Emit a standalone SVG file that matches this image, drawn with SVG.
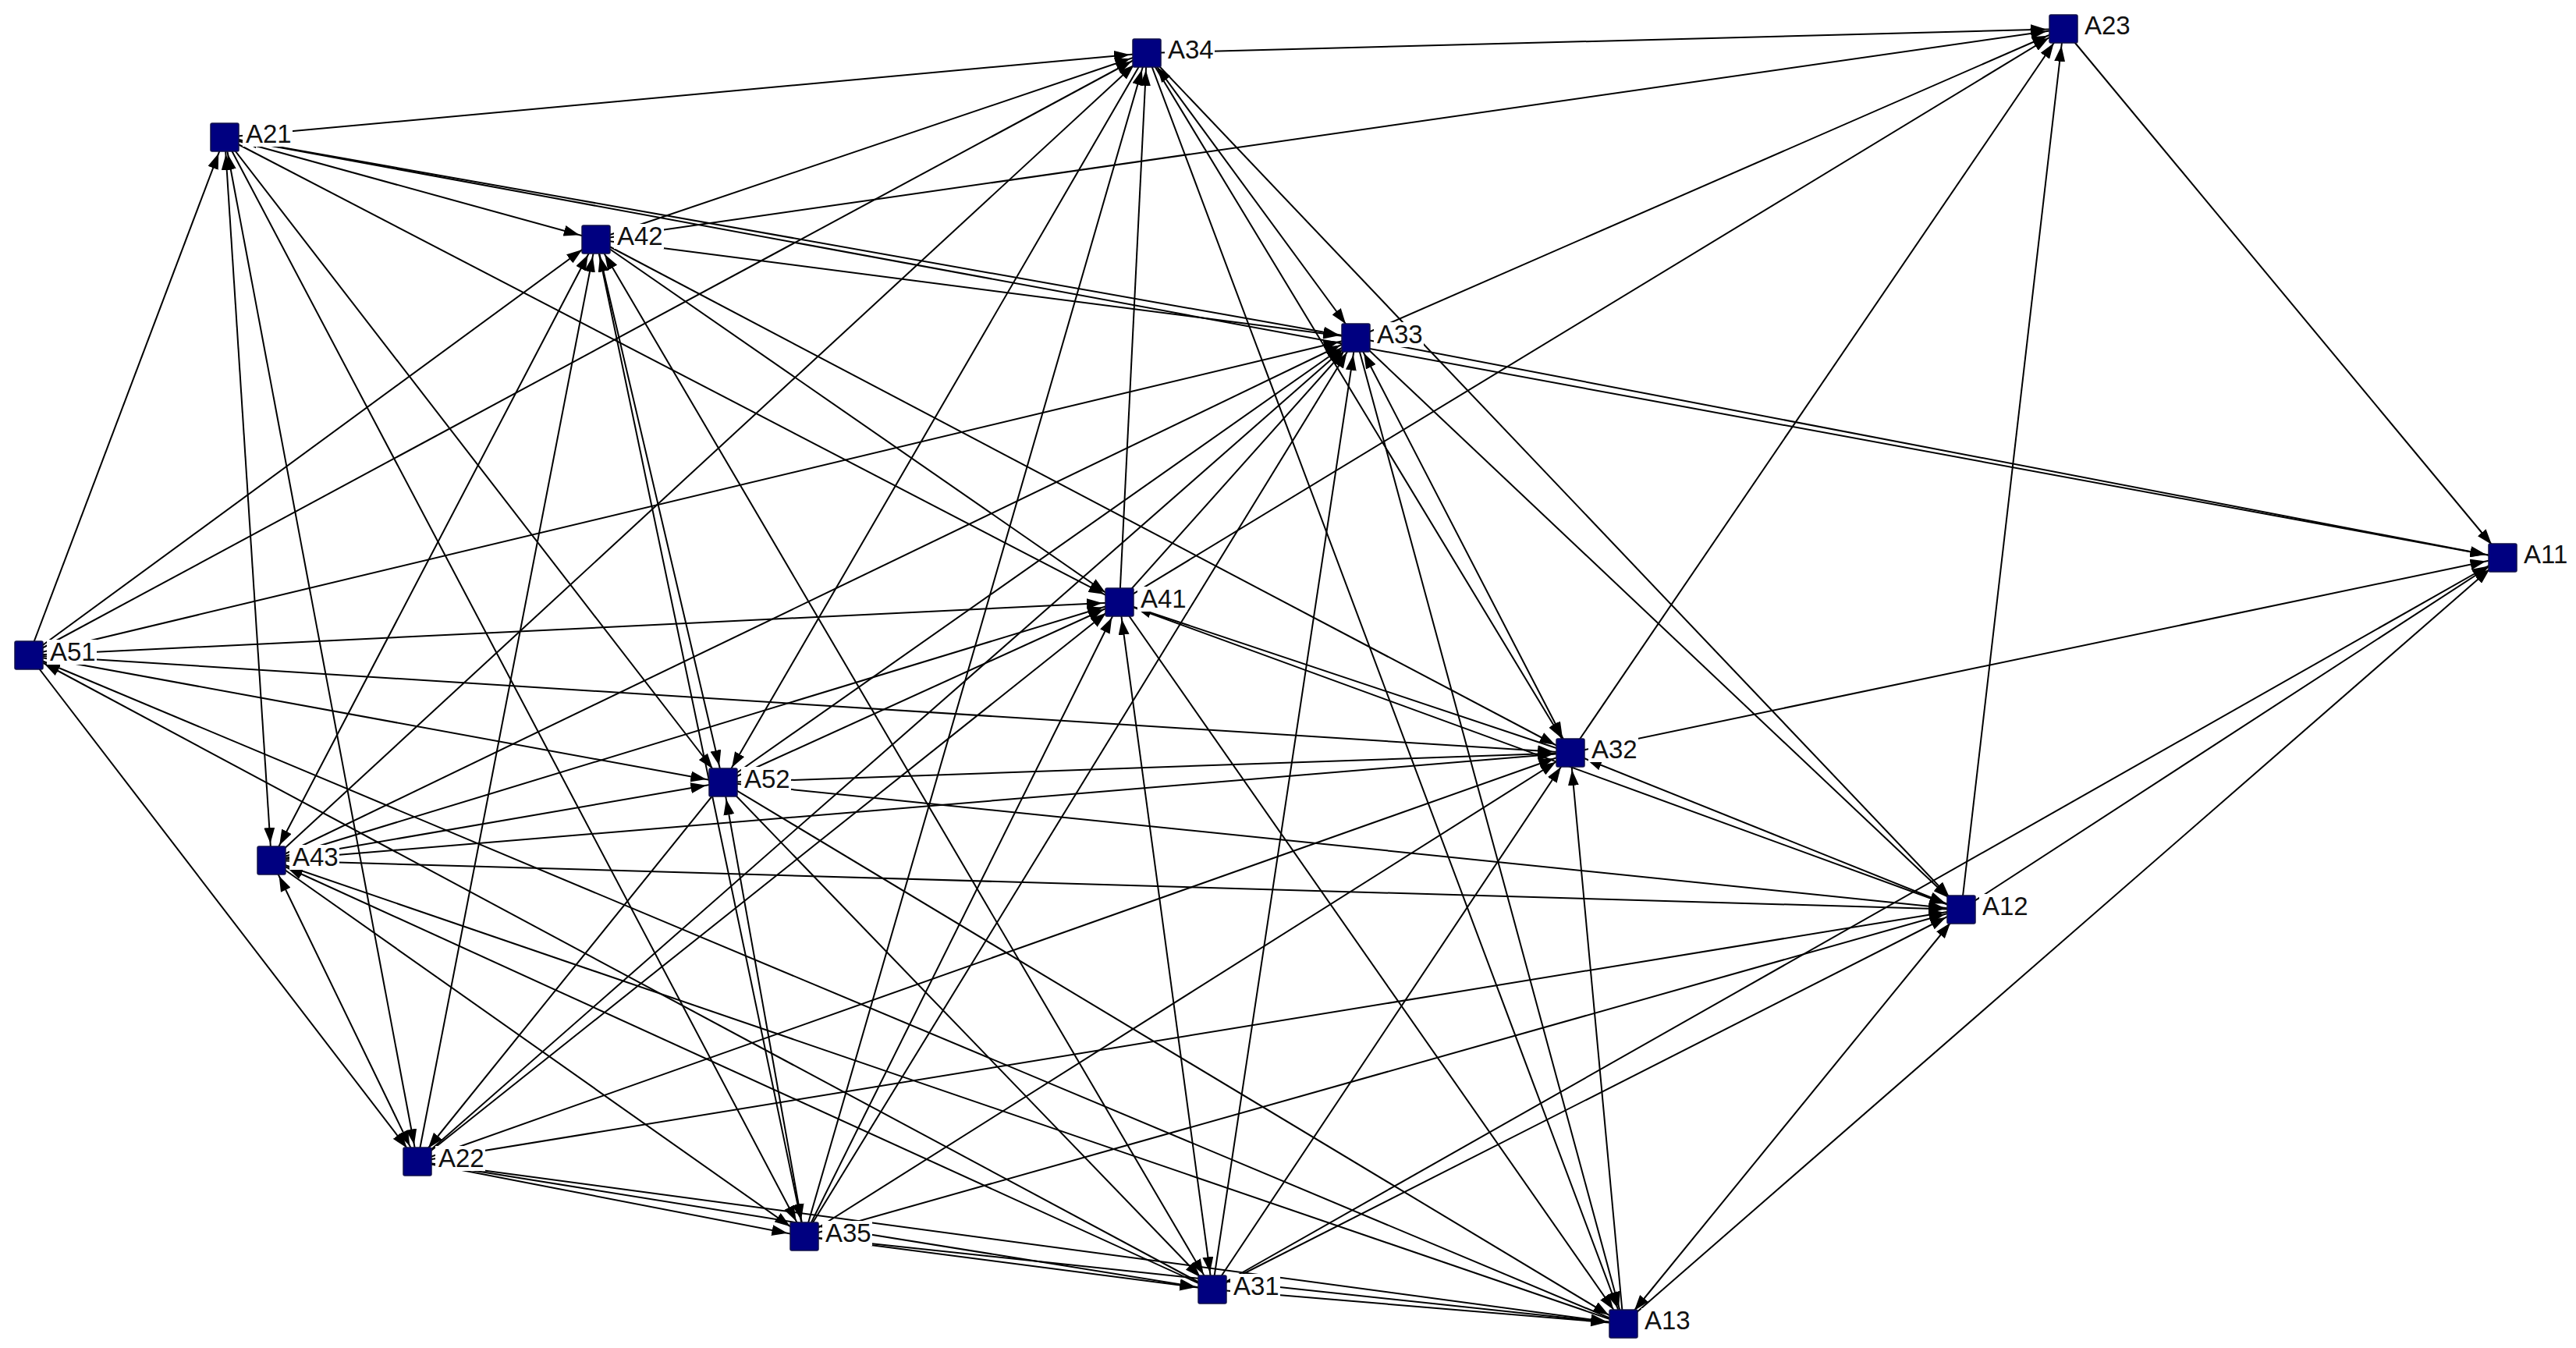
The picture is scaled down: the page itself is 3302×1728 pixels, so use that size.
<svg xmlns="http://www.w3.org/2000/svg" width="3302" height="1728" viewBox="0 0 3302 1728">
<style>
.e{stroke:#000;stroke-width:2;fill:none;marker-end:url(#ah)}
.b{marker-start:url(#ah)}
.nd{fill:#000080;stroke:#10104a;stroke-width:1.5}
.lb{fill:#fff}
.tx{font-family:"Liberation Sans",Arial,sans-serif;font-size:33px;fill:#111}
</style>
<defs>
<marker id="ah" markerUnits="userSpaceOnUse" viewBox="0 0 42 14" markerWidth="42" markerHeight="14" refX="42" refY="7" orient="auto-start-reverse">
<path d="M0,0 L20,7 L0,14 z" fill="#000"/>
</marker>
</defs>
<rect width="3302" height="1728" fill="#fff"/>
<g id="edges">
<line class="e" x1="37" y1="840" x2="288" y2="176"/>
<line class="e" x1="37" y1="840" x2="764" y2="307"/>
<line class="e" x1="37" y1="840" x2="1470" y2="68"/>
<line class="e" x1="37" y1="840" x2="1738" y2="433"/>
<line class="e" x1="37" y1="840" x2="1435" y2="772"/>
<line class="e" x1="37" y1="840" x2="2013" y2="965"/>
<line class="e" x1="37" y1="840" x2="927" y2="1003"/>
<line class="e" x1="37" y1="840" x2="535" y2="1489"/>
<line class="e" x1="1554" y1="1653" x2="37" y2="840"/>
<line class="e" x1="2081" y1="1697" x2="37" y2="840"/>
<line class="e" x1="288" y1="176" x2="1470" y2="68"/>
<line class="e b" x1="288" y1="176" x2="1738" y2="433"/>
<line class="e" x1="288" y1="176" x2="3208" y2="715"/>
<line class="e" x1="288" y1="176" x2="764" y2="307"/>
<line class="e" x1="288" y1="176" x2="1435" y2="772"/>
<line class="e" x1="288" y1="176" x2="927" y2="1003"/>
<line class="e" x1="288" y1="176" x2="1031" y2="1585"/>
<line class="e b" x1="288" y1="176" x2="535" y2="1489"/>
<line class="e b" x1="288" y1="176" x2="348" y2="1103"/>
<line class="e" x1="764" y1="307" x2="1470" y2="68"/>
<line class="e" x1="764" y1="307" x2="2645" y2="37"/>
<line class="e" x1="764" y1="307" x2="1738" y2="433"/>
<line class="e b" x1="764" y1="307" x2="348" y2="1103"/>
<line class="e" x1="535" y1="1489" x2="764" y2="307"/>
<line class="e b" x1="764" y1="307" x2="927" y2="1003"/>
<line class="e" x1="764" y1="307" x2="1031" y2="1585"/>
<line class="e b" x1="764" y1="307" x2="1554" y2="1653"/>
<line class="e" x1="764" y1="307" x2="2013" y2="965"/>
<line class="e" x1="764" y1="307" x2="1435" y2="772"/>
<line class="e" x1="348" y1="1103" x2="1470" y2="68"/>
<line class="e" x1="1470" y1="68" x2="927" y2="1003"/>
<line class="e" x1="1031" y1="1585" x2="1470" y2="68"/>
<line class="e" x1="1435" y1="772" x2="1470" y2="68"/>
<line class="e" x1="1470" y1="68" x2="2081" y2="1697"/>
<line class="e" x1="1470" y1="68" x2="2013" y2="965"/>
<line class="e b" x1="1470" y1="68" x2="1738" y2="433"/>
<line class="e" x1="1470" y1="68" x2="2514" y2="1166"/>
<line class="e" x1="1470" y1="68" x2="2645" y2="37"/>
<line class="e" x1="1738" y1="433" x2="2645" y2="37"/>
<line class="e" x1="1435" y1="772" x2="2645" y2="37"/>
<line class="e" x1="2013" y1="965" x2="2645" y2="37"/>
<line class="e" x1="2514" y1="1166" x2="2645" y2="37"/>
<line class="e" x1="2645" y1="37" x2="3208" y2="715"/>
<line class="e" x1="348" y1="1103" x2="1738" y2="433"/>
<line class="e" x1="927" y1="1003" x2="1738" y2="433"/>
<line class="e" x1="535" y1="1489" x2="1738" y2="433"/>
<line class="e" x1="1031" y1="1585" x2="1738" y2="433"/>
<line class="e" x1="1554" y1="1653" x2="1738" y2="433"/>
<line class="e" x1="1435" y1="772" x2="1738" y2="433"/>
<line class="e b" x1="2013" y1="965" x2="1738" y2="433"/>
<line class="e" x1="1738" y1="433" x2="2081" y2="1697"/>
<line class="e" x1="1738" y1="433" x2="2514" y2="1166"/>
<line class="e" x1="1738" y1="433" x2="3208" y2="715"/>
<line class="e" x1="348" y1="1103" x2="1435" y2="772"/>
<line class="e" x1="927" y1="1003" x2="1435" y2="772"/>
<line class="e" x1="535" y1="1489" x2="1435" y2="772"/>
<line class="e" x1="1031" y1="1585" x2="1435" y2="772"/>
<line class="e b" x1="1554" y1="1653" x2="1435" y2="772"/>
<line class="e" x1="2013" y1="965" x2="1435" y2="772"/>
<line class="e" x1="1435" y1="772" x2="2514" y2="1166"/>
<line class="e" x1="1435" y1="772" x2="2081" y2="1697"/>
<line class="e" x1="927" y1="1003" x2="2013" y2="965"/>
<line class="e" x1="348" y1="1103" x2="2013" y2="965"/>
<line class="e" x1="535" y1="1489" x2="2013" y2="965"/>
<line class="e" x1="1031" y1="1585" x2="2013" y2="965"/>
<line class="e" x1="1554" y1="1653" x2="2013" y2="965"/>
<line class="e" x1="2081" y1="1697" x2="2013" y2="965"/>
<line class="e b" x1="2013" y1="965" x2="2514" y2="1166"/>
<line class="e" x1="2013" y1="965" x2="3208" y2="715"/>
<line class="e" x1="348" y1="1103" x2="927" y2="1003"/>
<line class="e b" x1="927" y1="1003" x2="1031" y2="1585"/>
<line class="e" x1="927" y1="1003" x2="535" y2="1489"/>
<line class="e" x1="927" y1="1003" x2="2081" y2="1697"/>
<line class="e" x1="927" y1="1003" x2="2514" y2="1166"/>
<line class="e" x1="927" y1="1003" x2="1554" y2="1653"/>
<line class="e" x1="348" y1="1103" x2="2514" y2="1166"/>
<line class="e b" x1="348" y1="1103" x2="535" y2="1489"/>
<line class="e" x1="348" y1="1103" x2="1031" y2="1585"/>
<line class="e" x1="1554" y1="1653" x2="348" y2="1103"/>
<line class="e" x1="2081" y1="1697" x2="348" y2="1103"/>
<line class="e" x1="535" y1="1489" x2="2514" y2="1166"/>
<line class="e" x1="1031" y1="1585" x2="2514" y2="1166"/>
<line class="e" x1="1554" y1="1653" x2="2514" y2="1166"/>
<line class="e b" x1="2081" y1="1697" x2="2514" y2="1166"/>
<line class="e" x1="2514" y1="1166" x2="3208" y2="715"/>
<line class="e" x1="1554" y1="1653" x2="3208" y2="715"/>
<line class="e" x1="2081" y1="1697" x2="3208" y2="715"/>
<line class="e" x1="535" y1="1489" x2="1031" y2="1585"/>
<line class="e" x1="535" y1="1489" x2="1554" y2="1653"/>
<line class="e" x1="535" y1="1489" x2="2081" y2="1697"/>
<line class="e" x1="1031" y1="1585" x2="1554" y2="1653"/>
<line class="e" x1="1031" y1="1585" x2="2081" y2="1697"/>
<line class="e" x1="1554" y1="1653" x2="2081" y2="1697"/>
</g>
<g id="A34"><rect class="nd" x="1452" y="50" width="36" height="36" rx="2"/><rect class="lb" x="1493" y="48" width="64" height="32"/><text class="tx" x="1497" y="75">A34</text></g>
<g id="A23"><rect class="nd" x="2627" y="19" width="36" height="36" rx="2"/><rect class="lb" x="2668" y="17" width="64" height="32"/><text class="tx" x="2672" y="44">A23</text></g>
<g id="A21"><rect class="nd" x="270" y="158" width="36" height="36" rx="2"/><rect class="lb" x="311" y="156" width="64" height="32"/><text class="tx" x="315" y="183">A21</text></g>
<g id="A42"><rect class="nd" x="746" y="289" width="36" height="36" rx="2"/><rect class="lb" x="787" y="287" width="64" height="32"/><text class="tx" x="791" y="314">A42</text></g>
<g id="A33"><rect class="nd" x="1720" y="415" width="36" height="36" rx="2"/><rect class="lb" x="1761" y="413" width="64" height="32"/><text class="tx" x="1765" y="440">A33</text></g>
<g id="A11"><rect class="nd" x="3190" y="697" width="36" height="36" rx="2"/><rect class="lb" x="3231" y="695" width="64" height="32"/><text class="tx" x="3235" y="722">A11</text></g>
<g id="A51"><rect class="nd" x="19" y="822" width="36" height="36" rx="2"/><rect class="lb" x="60" y="820" width="64" height="32"/><text class="tx" x="64" y="847">A51</text></g>
<g id="A41"><rect class="nd" x="1417" y="754" width="36" height="36" rx="2"/><rect class="lb" x="1458" y="752" width="64" height="32"/><text class="tx" x="1462" y="779">A41</text></g>
<g id="A32"><rect class="nd" x="1995" y="947" width="36" height="36" rx="2"/><rect class="lb" x="2036" y="945" width="64" height="32"/><text class="tx" x="2040" y="972">A32</text></g>
<g id="A52"><rect class="nd" x="909" y="985" width="36" height="36" rx="2"/><rect class="lb" x="950" y="983" width="64" height="32"/><text class="tx" x="954" y="1010">A52</text></g>
<g id="A43"><rect class="nd" x="330" y="1085" width="36" height="36" rx="2"/><rect class="lb" x="371" y="1083" width="64" height="32"/><text class="tx" x="375" y="1110">A43</text></g>
<g id="A12"><rect class="nd" x="2496" y="1148" width="36" height="36" rx="2"/><rect class="lb" x="2537" y="1146" width="64" height="32"/><text class="tx" x="2541" y="1173">A12</text></g>
<g id="A22"><rect class="nd" x="517" y="1471" width="36" height="36" rx="2"/><rect class="lb" x="558" y="1469" width="64" height="32"/><text class="tx" x="562" y="1496">A22</text></g>
<g id="A35"><rect class="nd" x="1013" y="1567" width="36" height="36" rx="2"/><rect class="lb" x="1054" y="1565" width="64" height="32"/><text class="tx" x="1058" y="1592">A35</text></g>
<g id="A31"><rect class="nd" x="1536" y="1635" width="36" height="36" rx="2"/><rect class="lb" x="1577" y="1633" width="64" height="32"/><text class="tx" x="1581" y="1660">A31</text></g>
<g id="A13"><rect class="nd" x="2063" y="1679" width="36" height="36" rx="2"/><rect class="lb" x="2104" y="1677" width="64" height="32"/><text class="tx" x="2108" y="1704">A13</text></g>
</svg>
